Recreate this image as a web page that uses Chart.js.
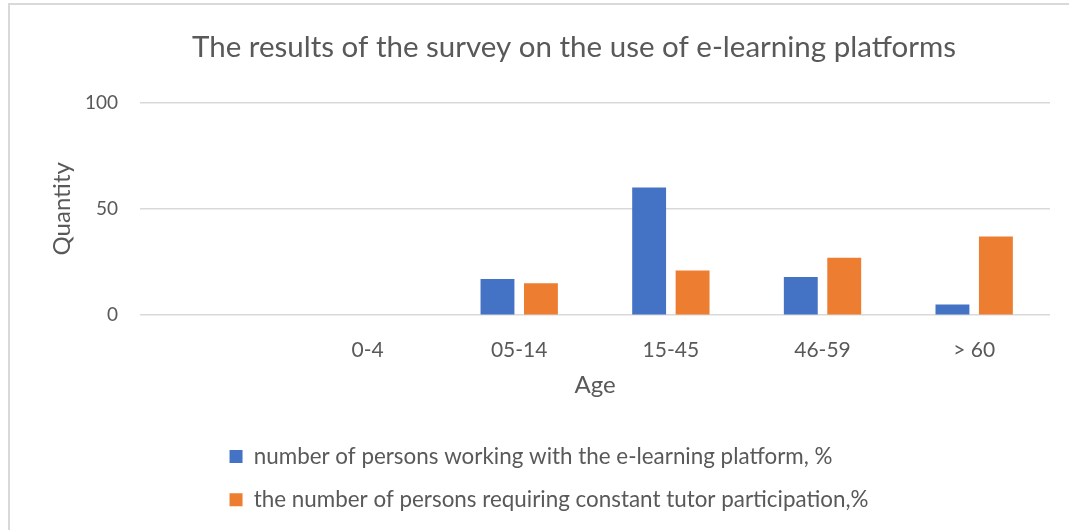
<!DOCTYPE html>
<html>
<head>
<meta charset="utf-8">
<script src="https://cdn.jsdelivr.net/npm/chart.js@4.4.0/dist/chart.umd.min.js"></script>
<style>
  html, body { margin: 0; padding: 0; background: #fff; }
  #wrap { position: relative; width: 1069px; height: 530px; }
  #frame { position: absolute; left: 8px; top: 3px; right: 0; bottom: 0;
           border-top: 2px solid #d9d9d9; border-left: 2px solid #d9d9d9; }
  canvas { position: absolute; left: 0; top: 0; }
</style>
</head>
<body>
<div id="wrap">
  <div id="frame"></div>
  <canvas id="chart" width="1069" height="530"></canvas>
</div>
<script>
(function () {
    'use strict'

    // age groups (the first slot is empty in the original chart)
    const ageGroups = ['', '0-4', '05-14', '15-45', '46-59', '> 60'];
    const workingWithPlatform = [null, 0, 17, 60, 18, 5];
    const needTutor = [null, 0, 15, 21, 27, 37];
    const yTicks = [0, 50, 100];

    const grey = '#595959';
    const fontFamily = 'Lato, "Noto Sans", sans-serif';

    // the excel title sits a bit right of the canvas centre,
    // and the two legend rows share one left edge
    const excelLayout = {
        id: 'excelLayout',
        afterLayout(chart) {
            chart.titleBlock.left += 50;
            let lw = chart.legend.lineWidths;
            if (lw && lw.length > 1) {
                let widest = Math.max.apply(null, lw);
                for (let i = 0; i < lw.length; i++) lw[i] = widest;
            }
        }
    };

    let ctx = document.getElementById('chart');
    new Chart(ctx, {
        type: 'bar',
        data: {
            labels: ageGroups,
            datasets: [{
                label: 'number of persons working with the e-learning platform, %',
                data: workingWithPlatform,
                backgroundColor: '#4472c4',
                categoryPercentage: 0.573,
                barPercentage: 0.78
            }, {
                label: 'the number of persons requiring constant tutor participation,%',
                data: needTutor,
                backgroundColor: '#ed7d31',
                categoryPercentage: 0.573,
                barPercentage: 0.78
            }]
        },
        options: {
            responsive: false,
            animation: false,
            layout: {
                padding: { left: 48, right: 19, top: 0, bottom: 9 }
            },
            scales: {
                x: {
                    grid: { display: false, drawTicks: false },
                    border: { display: false },
                    ticks: { color: grey, font: { family: fontFamily, size: 21 }, padding: 22 },
                    title: {
                        display: true,
                        text: 'Age',
                        color: grey,
                        font: { family: fontFamily, size: 24 },
                        padding: { top: -13.6, bottom: 24.6 }
                    }
                },
                y: {
                    min: 0,
                    max: 100,
                    afterBuildTicks: function (axis) {
                        axis.ticks = yTicks.map(v => ({ value: v }));
                    },
                    grid: { color: '#d9d9d9', lineWidth: 1.5, drawTicks: false },
                    border: { display: false },
                    ticks: { color: grey, font: { family: fontFamily, size: 19 }, padding: 22 },
                    title: {
                        display: true,
                        text: 'Quantity',
                        color: grey,
                        font: { family: fontFamily, size: 24 },
                        padding: { top: 0, bottom: -13.8 }
                    }
                }
            },
            plugins: {
                title: {
                    display: true,
                    text: 'The results of the survey on the use of e-learning platforms',
                    color: grey,
                    font: { family: fontFamily, size: 29.5, weight: 'normal' },
                    padding: { top: 30, bottom: 37 }
                },
                legend: {
                    position: 'bottom',
                    labels: {
                        color: grey,
                        font: { family: fontFamily, size: 22.4 },
                        boxWidth: 13,
                        boxHeight: 13,
                        padding: 21
                    }
                },
                tooltip: { enabled: false }
            }
        },
        plugins: [excelLayout]
    });
})()
</script>
</body>
</html>
